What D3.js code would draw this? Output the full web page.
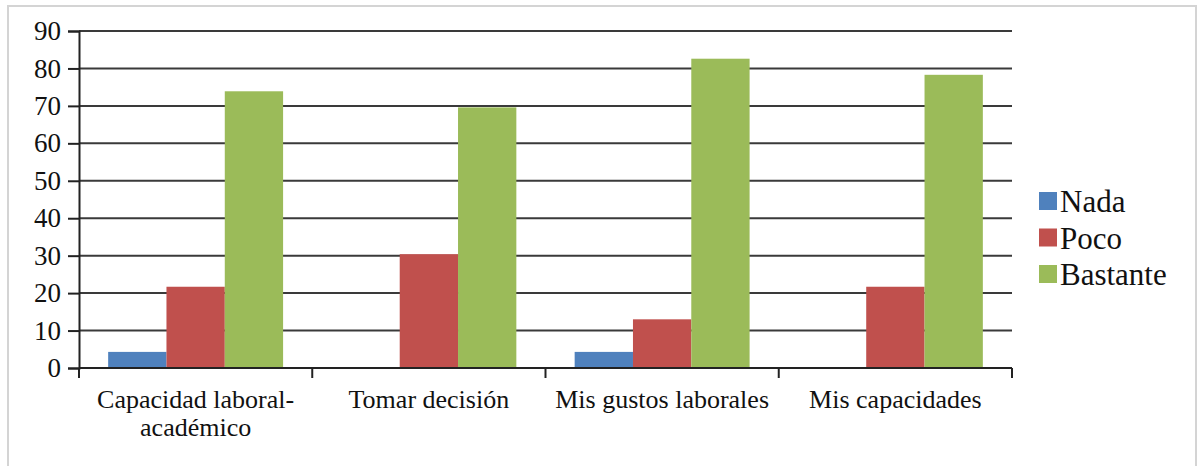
<!DOCTYPE html>
<html>
<head>
<meta charset="utf-8">
<script src="https://cdn.jsdelivr.net/npm/d3@7"></script>
<style>
  html, body { margin: 0; padding: 0; background: #fff; }
  svg { display: block; }
  text { fill: #111; }
</style>
</head>
<body>
<div id="chart"></div>
<script>
// Chart data
const categories = [['Capacidad laboral-', 'académico'], ['Tomar decisión'], ['Mis gustos laborales'], ['Mis capacidades']];
const series = ['Nada', 'Poco', 'Bastante'];
const colors = ['#4F81BD', '#C0504D', '#9BBB59'];
const nada = [4.3, 0, 4.3, 0];
const poco = [21.7, 30.4, 13.0, 21.7];
const bastante = [73.9, 69.6, 82.6, 78.3];
const yTicks = [0, 10, 20, 30, 40, 50, 60, 70, 80, 90];

const width = 1197, height = 466;
const plot = { left: 79, right: 1012, top: 31, bottom: 368 };
const FONT = "'Liberation Serif', 'Times New Roman', Times, 'DejaVu Serif', serif";

const svg = d3.select('#chart').append('svg')
    .attr('width', width)
    .attr('height', height);

// outer frame
svg.append('rect')
    .attr('x', 8).attr('y', 6)
    .attr('width', 1188).attr('height', 470)
    .attr('fill', 'none')
    .attr('stroke', '#d4d4d4')
    .attr('stroke-width', 2);

const keys = categories.map((c, i) => i);
const x0 = d3.scaleBand().domain(keys).range([plot.left, plot.right]).padding(0);
const x1 = d3.scaleBand().domain(series).range([0, x0.bandwidth()]).paddingInner(0).paddingOuter(0.5);
const y = d3.scaleLinear().domain([0, 90]).range([plot.bottom, plot.top]);

// gridlines
svg.append('g')
    .selectAll('line')
    .data(yTicks.filter(d => d > 0))
    .enter().append('line')
    .attr('x1', plot.left).attr('x2', plot.right)
    .attr('y1', d => y(d)).attr('y2', d => y(d))
    .attr('stroke', '#3a3a3a')
    .attr('stroke-width', 2);

// bars
const rows = keys.map(i => ({ i, vals: [nada[i], poco[i], bastante[i]] }));
const groups = svg.append('g').selectAll('g')
    .data(rows)
    .enter().append('g')
    .attr('transform', d => `translate(${x0(d.i)},0)`);

groups.selectAll('rect')
    .data(d => d.vals.map((v, k) => ({ key: series[k], v, k })))
    .enter().append('rect')
    .attr('x', d => x1(d.key))
    .attr('width', x1.bandwidth())
    .attr('y', d => y(d.v))
    .attr('height', d => y(0) - y(d.v))
    .attr('fill', d => colors[d.k]);

// y axis
const yAxis = svg.append('g')
    .attr('transform', `translate(${plot.left},0)`)
    .call(d3.axisLeft(y).tickValues(yTicks).tickSize(11).tickPadding(7));
yAxis.attr('font-family', null).attr('font-size', null);
yAxis.select('.domain').attr('stroke', '#222').attr('stroke-width', 2);
yAxis.selectAll('.tick line').attr('stroke', '#222').attr('stroke-width', 2);
yAxis.selectAll('.tick text')
    .style('font-family', FONT)
    .style('font-size', '27px')
    .attr('fill', '#111');

// x axis line and boundary ticks
svg.append('line')
    .attr('x1', plot.left).attr('x2', plot.right)
    .attr('y1', y(0)).attr('y2', y(0))
    .attr('stroke', '#222').attr('stroke-width', 2);
const bounds = keys.map(i => x0(i)).concat([plot.right]);
svg.append('g').selectAll('line')
    .data(bounds)
    .enter().append('line')
    .attr('x1', d => d).attr('x2', d => d)
    .attr('y1', y(0)).attr('y2', y(0) + 10)
    .attr('stroke', '#222').attr('stroke-width', 2);

// category labels
const labels = svg.append('g').selectAll('text')
    .data(keys)
    .enter().append('text')
    .attr('x', d => x0(d) + x0.bandwidth() / 2)
    .attr('y', 408)
    .attr('text-anchor', 'middle')
    .style('font-family', FONT)
    .style('font-size', '26px');
labels.each(function(d) {
    const t = d3.select(this);
    categories[d].forEach((line, j) => {
        t.append('tspan')
            .attr('x', x0(d) + x0.bandwidth() / 2)
            .attr('dy', j === 0 ? 0 : 28)
            .text(line);
    });
});

// legend
const legend = svg.append('g').attr('transform', 'translate(1039,0)');
const li = legend.selectAll('g')
    .data(series)
    .enter().append('g')
    .attr('transform', (d, i) => `translate(0,${201 + i * 36.5})`);
li.append('rect')
    .attr('x', 0).attr('y', -9)
    .attr('width', 18).attr('height', 18)
    .attr('fill', (d, i) => colors[i]);
li.append('text')
    .attr('x', 21)
    .attr('y', 11)
    .style('font-family', FONT)
    .style('font-size', '31px')
    .text(d => d);
</script>
</body>
</html>
